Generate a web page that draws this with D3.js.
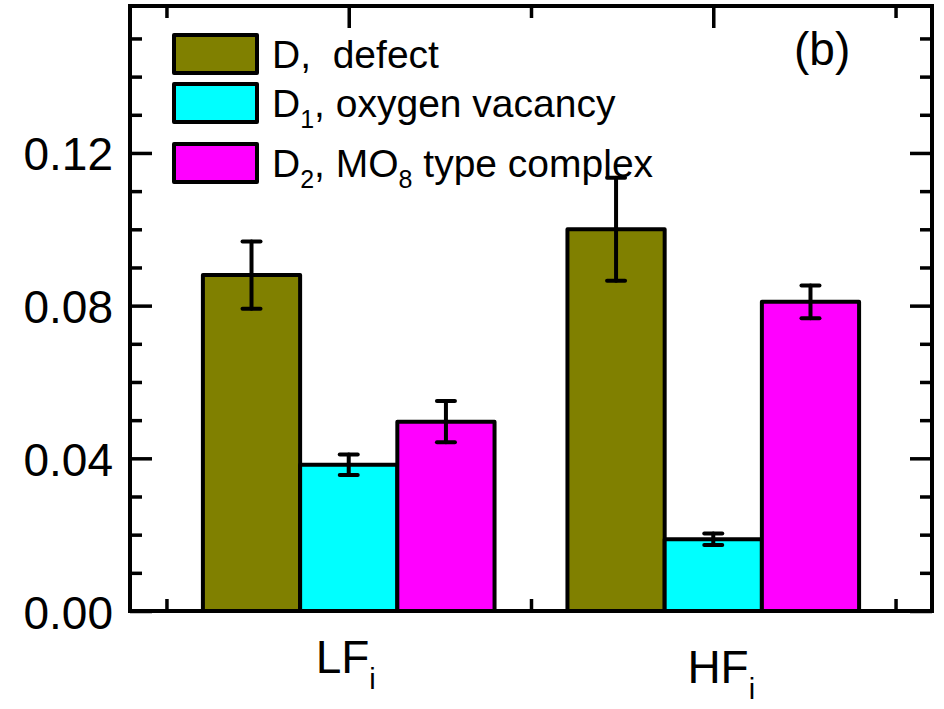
<!DOCTYPE html>
<html>
<head>
<meta charset="utf-8">
<script src="https://cdn.jsdelivr.net/npm/d3@7"></script>
<style>
  body { margin: 0; background: #fff; }
  svg text { font-family: "Liberation Sans", Arial, sans-serif; fill: #000; white-space: pre; }
</style>
</head>
<body>
<div id="chart"></div>
<script>
// categories on the x axis (main text + subscript)
const categories = ["LF", "HF"];
const categorySubs = ["i", "i"];
const categoryPos = [1, 2];

// bar heights per series
const dDefect = [0.0880, 0.1000];
const d1Vacancy = [0.0383, 0.0188];
const d2Complex = [0.0496, 0.0810];

// error bar half-widths
const dDefectErr = [0.0088, 0.0135];
const d1VacancyErr = [0.0027, 0.0015];
const d2ComplexErr = [0.0054, 0.0043];

const seriesColors = ["#808000", "#00ffff", "#ff00ff"];
// legend labels: [text, isSubscript]
const seriesLabels = [
    [["D,  defect", false]],
    [["D", false], ["1", true], [", oxygen vacancy", false]],
    [["D", false], ["2", true], [", MO", false], ["8", true], [" type complex", false]]
];

const yMajor = [0, 0.04, 0.08, 0.12];
const yMinor = [0.01, 0.02, 0.03, 0.05, 0.06, 0.07, 0.09, 0.10, 0.11, 0.13, 0.14, 0.15];
const xMajor = [1, 2];
const xMinor = [0.5, 1.5, 2.5];

const seriesValues = [dDefect, d1Vacancy, d2Complex];
const seriesErrors = [dDefectErr, d1VacancyErr, d2ComplexErr];

const width = 944, height = 709;
const plotL = 130, plotR = 932, plotT = 6, plotB = 611;

const svg = d3.select("#chart").append("svg")
    .attr("width", width)
    .attr("height", height);

const x = d3.scaleLinear().domain([0.4, 2.6]).range([plotL, plotR]);
const y = d3.scaleLinear().domain([0, 0.1585]).range([plotB, plotT]);

// inward ticks on all four sides
function ticks(axis, vals, size, tx, ty) {
    const g = svg.append("g")
        .attr("transform", "translate(" + tx + "," + ty + ")")
        .call(axis.tickValues(vals).tickSize(size).tickFormat(""));
    g.select(".domain").remove();
    g.selectAll(".tick line").attr("stroke", "#000").attr("stroke-width", 3.5);
}
ticks(d3.axisRight(y), yMajor, 22, plotL, 0);
ticks(d3.axisRight(y), yMinor, 12, plotL, 0);
ticks(d3.axisLeft(y), yMajor, 22, plotR, 0);
ticks(d3.axisLeft(y), yMinor, 12, plotR, 0);
ticks(d3.axisBottom(x), xMajor, 22, 0, plotT);
ticks(d3.axisBottom(x), xMinor, 12, 0, plotT);
ticks(d3.axisTop(x), xMajor, 22, 0, plotB);
ticks(d3.axisTop(x), xMinor, 12, 0, plotB);

// y labels
const yLab = svg.append("g")
    .attr("transform", "translate(" + plotL + ",0)")
    .call(d3.axisLeft(y).tickValues(yMajor).tickSize(0).tickPadding(17).tickFormat(d3.format(".2f")));
yLab.select(".domain").remove();
yLab.selectAll("text")
    .attr("font-size", 46)
    .attr("font-family", "Liberation Sans, Arial, sans-serif")
    .attr("dy", "0.37em");

// bars
const groupWidth = 0.8;
const barW = groupWidth / seriesValues.length;
const bars = [];
seriesValues.forEach((vals, s) => {
    vals.forEach((v, c) => {
        bars.push({
            s: s, v: v, e: seriesErrors[s][c],
            x0: categoryPos[c] - groupWidth / 2 + s * barW
        });
    });
});

svg.append("g").selectAll("rect")
    .data(bars)
    .enter().append("rect")
    .attr("x", d => x(d.x0))
    .attr("y", d => y(d.v))
    .attr("width", d => x(d.x0 + barW) - x(d.x0))
    .attr("height", d => y(0) - y(d.v))
    .attr("fill", d => seriesColors[d.s])
    .attr("stroke", "#000")
    .attr("stroke-width", 4)
    .attr("stroke-linejoin", "round");

// error bars
const err = svg.append("g")
    .attr("stroke", "#000")
    .attr("stroke-width", 4)
    .attr("stroke-linecap", "round");
bars.forEach(d => {
    const cx = x(d.x0 + barW / 2);
    err.append("line").attr("x1", cx).attr("x2", cx)
        .attr("y1", y(d.v + d.e)).attr("y2", y(d.v - d.e));
    [d.v + d.e, d.v - d.e].forEach(t => {
        err.append("line").attr("x1", cx - 9).attr("x2", cx + 9)
            .attr("y1", y(t)).attr("y2", y(t));
    });
});

// frame
svg.append("rect")
    .attr("x", plotL).attr("y", plotT)
    .attr("width", plotR - plotL).attr("height", plotB - plotT)
    .attr("fill", "none").attr("stroke", "#000").attr("stroke-width", 4);

// category labels
const labelDx = [-3, 8];
const labelBase = [673, 683];
categories.forEach((c, i) => {
    const t = svg.append("text")
        .attr("x", x(categoryPos[i]) + labelDx[i])
        .attr("y", labelBase[i])
        .attr("text-anchor", "middle")
        .attr("font-size", 46);
    t.append("tspan").text(c);
    t.append("tspan").attr("font-size", 29).attr("dy", 16).text(categorySubs[i]);
});

// legend
const legendBoxTop = [35, 84, 144];
const legend = svg.append("g");
seriesLabels.forEach((parts, i) => {
    legend.append("rect")
        .attr("x", 174).attr("y", legendBoxTop[i])
        .attr("width", 83).attr("height", 38)
        .attr("fill", seriesColors[i])
        .attr("stroke", "#000").attr("stroke-width", 4)
        .attr("stroke-linejoin", "round");
    const t = legend.append("text")
        .attr("x", 272)
        .attr("y", legendBoxTop[i] + 19 + 14)
        .attr("font-size", 39);
    let lowered = false;
    parts.forEach(([txt, sub]) => {
        const sp = t.append("tspan").text(txt);
        if (sub) {
            sp.attr("font-size", 25).attr("dy", 11);
            lowered = true;
        } else {
            if (lowered) sp.attr("dy", -11);
            lowered = false;
        }
    });
});

svg.append("text")
    .attr("x", 794).attr("y", 65)
    .attr("font-size", 46)
    .text("(b)");
</script>
</body>
</html>
